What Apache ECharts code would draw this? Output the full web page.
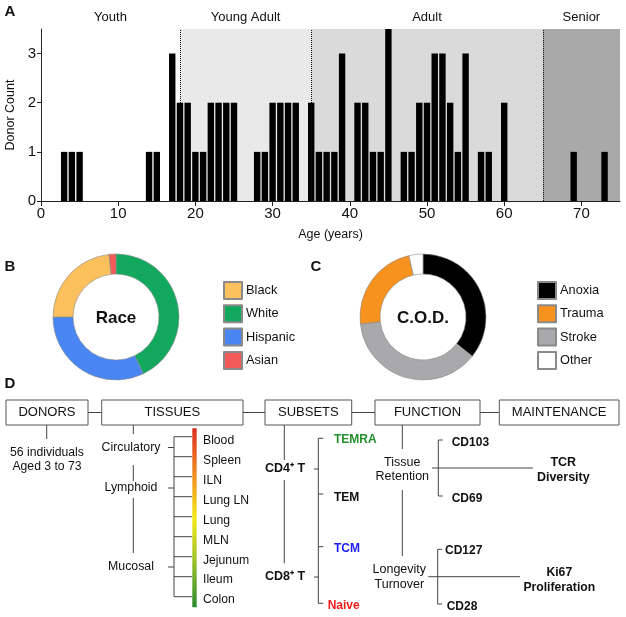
<!DOCTYPE html>
<html><head><meta charset="utf-8">
<script src="https://cdn.jsdelivr.net/npm/echarts@6/dist/echarts.min.js"></script>
<style>html,body{margin:0;padding:0;background:#fff}#c{width:626px;height:617px}</style>
</head><body><div id="c"></div>
<script>
// ---- Panel A data ----
const ages   = [3,4,5,14,15,17,18,19,20,21,22,23,24,25,28,29,30,31,32,33,35,36,37,38,39,41,42,43,44,45,47,48,49,50,51,52,53,54,55,57,58,60,69,73];
const counts = [1,1,1,1,1,3,2,2,1,1,2,2,2,2,1,1,2,2,2,2,2,1,1,1,3,2,2,1,1,4,1,1,2,2,3,3,2,1,3,1,1,2,1,1];
const ageGroups  = ['Youth','Young Adult','Adult','Senior'];
const groupEdges = [0,18,35,65,75];
const xTicks = [0,10,20,30,40,50,60,70];
const yTicks = [0,1,2,3];
// ---- Panel B / C data ----
const raceNames  = ['White','Hispanic','Black','Asian'];
const raceValues = [24,18,13,1];
const raceLegend = ['Black','White','Hispanic','Asian'];
const codNames   = ['Anoxia','Stroke','Trauma','Other'];
const codValues  = [20,21,13,2];
const codLegend  = ['Anoxia','Trauma','Stroke','Other'];
// ---- Panel D text ----
const boxLabels = ['DONORS','TISSUES','SUBSETS','FUNCTION','MAINTENANCE'];
const tissueClasses = ['Circulatory','Lymphoid','Mucosal'];
const tissues = ['Blood','Spleen','ILN','Lung LN','Lung','MLN','Jejunum','Ileum','Colon'];
const subsets = ['TEMRA','TEM','TCM','Naive'];
const cells = ['CD4\u207A T','CD8\u207A T'];

// styles
const FONT = '"Liberation Sans", Arial, Helvetica, sans-serif';
const areaColors = ['rgba(0,0,0,0)','#e9e9e9','#dadada','#a9a9a9'];
const raceColors = {White:'#12a95f', Hispanic:'#4a86f3', Black:'#fcc05d', Asian:'#f25a5a'};
const codColors  = {Anoxia:'#000000', Stroke:'#a9a9ac', Trauma:'#f7921e', Other:'#ffffff'};
const subsetColors = ['#23902a','#111111','#1c1cf0','#f01c1c'];
const LC = '#444';

const G = [];
function line(x1,y1,x2,y2){G.push({type:'line',shape:{x1,y1,x2,y2},style:{stroke:LC,lineWidth:1},silent:true});}
function txt(t,x,y,opt){opt=opt||{};G.push({type:'text',silent:true,style:{text:t,x,y,
  fontSize:opt.size||12.5,fontWeight:opt.bold?'bold':'normal',fontFamily:FONT,fill:opt.color||'#111',
  align:opt.align||'center',verticalAlign:'middle',textAlign:opt.align||'center',textVerticalAlign:'middle'}});}

// panel letters
txt('A',10,12,{bold:true,size:15});
txt('B',10,267,{bold:true,size:15});
txt('C',316,267,{bold:true,size:15});
txt('D',10,384,{bold:true,size:15});
// donut centers
txt('Race',116,318,{bold:true,size:17});
txt('C.O.D.',423,318,{bold:true,size:17});

// boxes
const boxX = [[6,88],[101.7,243],[265,351.7],[375,480],[499.3,619]];
boxX.forEach((b,i)=>{
  G.push({type:'rect',shape:{x:b[0],y:400,width:b[1]-b[0],height:25},style:{fill:'#fff',stroke:'#555',lineWidth:1},silent:true});
  txt(boxLabels[i],(b[0]+b[1])/2,412.8,{size:13});
  if(i<boxX.length-1) line(b[1],412.5,boxX[i+1][0],412.5);
});
// donors
line(46.7,425,46.7,439);
txt('56 individuals',47,452.5,{size:12.2});
txt('Aged 3 to 73',47,466.5,{size:12.2});
// tissues
line(133.3,425,133.3,434);
const clsY=[447.5,488,567];
tissueClasses.forEach((c,i)=>{txt(c,131,clsY[i],{size:12.3}); line(168,clsY[i],174,clsY[i]);});
line(133.3,465,133.3,481);
line(133.3,498,133.3,553);
line(174,436.7,174,596.7);
tissues.forEach((t,i)=>{line(174,436.7+20*i,192.3,436.7+20*i); txt(t,203,440.8+19.9*i,{size:12.2,align:'left'});});
G.push({type:'rect',silent:true,shape:{x:192.3,y:428.3,width:4.4,height:179},style:{fill:{type:'linear',x:0,y:0,x2:0,y2:1,colorStops:[
  {offset:0,color:'#dc2e1e'},{offset:0.25,color:'#ee8a22'},{offset:0.5,color:'#f4ea1c'},{offset:0.72,color:'#a6c62a'},{offset:1,color:'#2a8a2e'}]}}});
// subsets
line(284.3,425,284.3,460);
txt(cells[0],285,469,{bold:true,size:12.5});
line(284.3,480,284.3,563.3);
txt(cells[1],285,577,{bold:true,size:12.5});
line(314,469,318.3,469); line(314,577,318.3,577);
line(318.3,438.3,318.3,603.3);
const subY=[438.3,494,546.7,603.3], subTY=[440,497.7,549,605.7], subTX=[334,334,334,327.7];
subsets.forEach((s,i)=>{line(318.3,subY[i],323.3,subY[i]); txt(s,subTX[i],subTY[i],{bold:true,size:12,align:'left',color:subsetColors[i]});});
// function
line(402.3,425,402.3,449);
txt('Tissue',402.3,462.7); txt('Retention',402.3,476.7);
line(402.3,490,402.3,556);
txt('Longevity',399.3,570); txt('Turnover',399.3,584.3);
line(432,468,533,468);
line(438.3,440,438.3,496); line(438.3,440,442.7,440); line(438.3,496,442.7,496);
txt('CD103',451.7,442.7,{bold:true,size:12,align:'left'});
txt('CD69',451.7,499,{bold:true,size:12,align:'left'});
txt('TCR',563.3,462.3,{bold:true,size:12.5}); txt('Diversity',563.3,477.3,{bold:true,size:12.5});
line(428.3,576.7,520,576.7);
line(437.7,549.3,437.7,604); line(437.7,549.3,442,549.3); line(437.7,604,442,604);
txt('CD127',445,551,{bold:true,size:12,align:'left'});
txt('CD28',446.7,606.7,{bold:true,size:12,align:'left'});
txt('Ki67',559.3,572.3,{bold:true,size:12.2}); txt('Proliferation',559.3,587.7,{bold:true,size:12.2});

const chart = echarts.init(document.getElementById('c'), null, {renderer:'canvas'});
const legendBase = {orient:'vertical',top:276,itemWidth:18,itemHeight:17,itemGap:4.3,icon:'rect',selectedMode:false,
  textStyle:{fontSize:12.8,color:'#111',fontFamily:FONT,padding:[0,0,0,-1]}};
chart.setOption({
  animation:false,
  textStyle:{fontFamily:FONT},
  grid:{left:41,right:6,top:29,bottom:416,containLabel:false,outerBoundsMode:'none'},
  xAxis:{type:'value',min:0,max:75,splitLine:{show:false},
    axisLine:{show:true,lineStyle:{color:'#222',width:1}},
    axisTick:{show:true,length:5,customValues:xTicks,lineStyle:{color:'#222'}},
    axisLabel:{customValues:xTicks,fontSize:15,color:'#111',margin:5},
    name:'Age (years)',nameLocation:'middle',nameGap:27,nameTextStyle:{fontSize:12.5,color:'#111'}},
  yAxis:{type:'value',min:0,max:3.5,splitLine:{show:false},
    axisLine:{show:true,lineStyle:{color:'#222',width:1}},
    axisTick:{show:true,length:4,customValues:yTicks,lineStyle:{color:'#222'}},
    axisLabel:{customValues:yTicks,fontSize:15,color:'#111',margin:5},
    name:'Donor Count',nameLocation:'middle',nameGap:23,nameRotate:90,nameTextStyle:{fontSize:12.5,color:'#111'}},
  legend:[
    Object.assign({},legendBase,{left:218,data:raceLegend}),
    Object.assign({},legendBase,{left:532,data:codLegend})
  ],
  series:[
    {type:'bar',data:ages.map((a,i)=>[a,counts[i]]),barWidth:6.4,clip:true,silent:true,
      itemStyle:{color:'#000'},
      markArea:{silent:true,
        label:{show:true,position:'top',distance:5,fontSize:13,color:'#111'},
        data:ageGroups.map((g,i)=>[{name:g,xAxis:groupEdges[i],itemStyle:{color:areaColors[i]}},{xAxis:groupEdges[i+1]}])},
      markLine:{silent:true,symbol:'none',label:{show:false},
        lineStyle:{type:'dotted',color:'#111',width:1},
        data:groupEdges.slice(1,4).map(x=>({xAxis:x}))}
    },
    {type:'pie',center:[116,317],radius:[43,63],startAngle:90,clockwise:true,silent:true,
      label:{show:false},labelLine:{show:false},
      itemStyle:{borderColor:'#8a8a8a',borderWidth:0.6},
      data:raceNames.map((n,i)=>({name:n,value:raceValues[i],itemStyle:{color:raceColors[n]}}))},
    {type:'pie',center:[423,317],radius:[43,63],startAngle:90,clockwise:true,silent:true,
      label:{show:false},labelLine:{show:false},
      itemStyle:{borderColor:'#8a8a8a',borderWidth:0.6},
      data:codNames.map((n,i)=>({name:n,value:codValues[i],itemStyle:{color:codColors[n]}}))}
  ],
  graphic:G
});
</script></body></html>
